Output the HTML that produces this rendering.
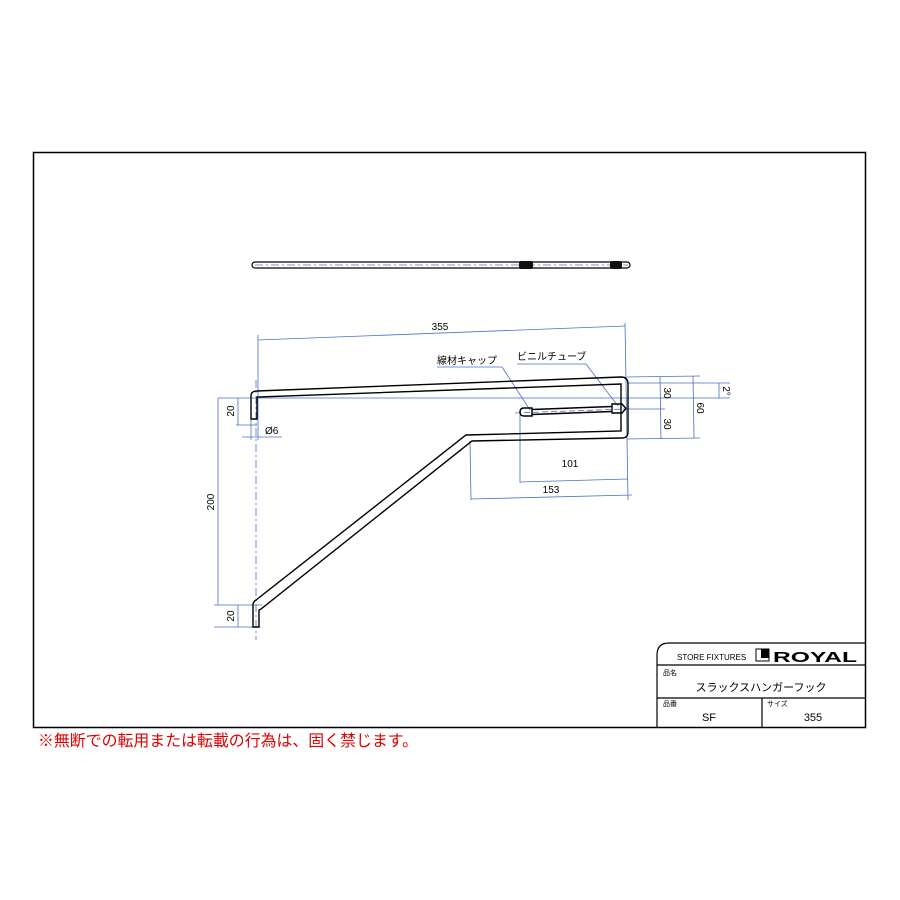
<!DOCTYPE html>
<html><head><meta charset="utf-8"><style>body{margin:0;background:#fff}svg{display:block}</style></head><body>
<svg width="900" height="900" viewBox="0 0 900 900" xmlns="http://www.w3.org/2000/svg" font-family="Liberation Sans, Noto Sans CJK JP, sans-serif">
<rect x="33.5" y="152.5" width="832" height="575" fill="none" stroke="#000" stroke-width="1.5"/>
<!-- top view -->
<rect x="252" y="262" width="378" height="6" rx="3" fill="none" stroke="#000" stroke-width="1.2"/>
<line x1="255" y1="265" x2="628" y2="265" stroke="#7a95d6" stroke-dasharray="8,3,2,3"/>
<rect x="519" y="261" width="14" height="8" rx="2" fill="#111"/>
<rect x="610" y="261" width="12" height="8" rx="2" fill="#111"/>
<!-- blue dims -->
<g stroke="#4a6fc4" stroke-width="0.8" fill="none">
<line x1="258" y1="335" x2="258" y2="440"/>
<line x1="625" y1="323" x2="628" y2="500"/>
<line x1="258" y1="340" x2="625" y2="326"/>
<line x1="627" y1="377" x2="700" y2="376"/>
<line x1="627" y1="383" x2="730" y2="383"/>
<line x1="218" y1="398" x2="730" y2="398"/>
<line x1="626" y1="409" x2="665" y2="409"/>
<line x1="627" y1="439" x2="700" y2="438"/>
<line x1="660" y1="377" x2="661" y2="439"/>
<line x1="693" y1="376" x2="694" y2="438"/>
<line x1="719" y1="383" x2="719" y2="398"/>
<line x1="218" y1="398" x2="218" y2="605"/>
<line x1="214" y1="605" x2="262" y2="605"/>
<line x1="214" y1="627" x2="260" y2="627"/>
<line x1="238" y1="398" x2="238" y2="425"/>
<line x1="236" y1="425" x2="257" y2="425"/>
<line x1="238" y1="605" x2="238" y2="627"/>
<line x1="242" y1="437" x2="282" y2="437"/>
<line x1="251" y1="420" x2="251" y2="440"/>
<line x1="520" y1="412" x2="520" y2="483"/>
<line x1="520" y1="482" x2="628" y2="479"/>
<line x1="470" y1="441" x2="471" y2="500"/>
<line x1="471" y1="499" x2="632" y2="495"/>
<line x1="437" y1="367" x2="502" y2="367"/>
<line x1="502" y1="367" x2="530" y2="410"/>
<line x1="517" y1="364" x2="586" y2="364"/>
<line x1="586" y1="364" x2="618" y2="406"/>
<line x1="515" y1="413" x2="625" y2="409" stroke-dasharray="6,3"/>
<line x1="256" y1="380" x2="256" y2="640" stroke-dasharray="8,3,2,3"/>
</g>
<!-- part outline -->
<g stroke="#000" stroke-width="1.4" fill="none">
<path d="M251 419 L251 396 Q251 391 257 391 L621 377 Q628 377 628 384 L628 432 Q628 438 622 438 L472 441 L261 609 L259 610 L259 627 L253 627 L253 604 Q254 601 256 600 L466 435 L621 431 L621 384 L257 397 L257 419 Z"/>
<path d="M532 408 L524 408 Q520 408 520 412 Q520 416 524 416 L532 416 Z"/>
<line x1="532" y1="409.5" x2="612" y2="406.5"/>
<line x1="532" y1="414.5" x2="612" y2="411.5"/>
<path d="M612 404 L622 404 L626 408.5 L622 413 L612 413 Z"/>
</g>
<g font-size="10" fill="#000">
<text x="440" y="330" text-anchor="middle">355</text>
<text x="437" y="364">線材キャップ</text>
<text x="517" y="360">ビニルチューブ</text>
<text x="570" y="467" text-anchor="middle">101</text>
<text x="551" y="493" text-anchor="middle">153</text>
<text x="265" y="434">Ø6</text>
<text transform="translate(234,411) rotate(-90)" text-anchor="middle">20</text>
<text transform="translate(234,616) rotate(-90)" text-anchor="middle">20</text>
<text transform="translate(214,502) rotate(-90)" text-anchor="middle">200</text>
<text transform="translate(664,393) rotate(90)" text-anchor="middle">30</text>
<text transform="translate(664,424) rotate(90)" text-anchor="middle">30</text>
<text transform="translate(697,408) rotate(90)" text-anchor="middle">60</text>
<text transform="translate(723,391) rotate(90)" text-anchor="middle">2°</text>
</g>
<!-- title block -->
<g stroke="#000" stroke-width="1.2" fill="none">
<path d="M657 728 L657 655 Q657 643 669 643 L866 643"/>
<line x1="657" y1="665" x2="866" y2="665"/>
<line x1="657" y1="698" x2="866" y2="698"/>
<line x1="762" y1="698" x2="762" y2="728"/>
<rect x="756" y="649" width="13" height="12" stroke-width="1"/>
</g>
<rect x="761" y="649" width="8" height="9" fill="#000"/>
<g fill="#000">
<text x="677" y="660" font-size="8">STORE FIXTURES</text>
<text x="773" y="662" font-size="15" font-weight="bold" textLength="84" lengthAdjust="spacingAndGlyphs">ROYAL</text>
<text x="663" y="675" font-size="7">品名</text>
<text x="761" y="691" font-size="11" text-anchor="middle">スラックスハンガーフック</text>
<text x="663" y="706" font-size="7">品番</text>
<text x="767" y="706" font-size="7">サイズ</text>
<text x="709" y="721" font-size="11" text-anchor="middle">SF</text>
<text x="813" y="721" font-size="11" text-anchor="middle">355</text>
</g>
<text x="38" y="746" font-size="16" fill="#e00000" textLength="380" lengthAdjust="spacingAndGlyphs">※無断での転用または転載の行為は、固く禁じます。</text>
</svg>
</body></html>
